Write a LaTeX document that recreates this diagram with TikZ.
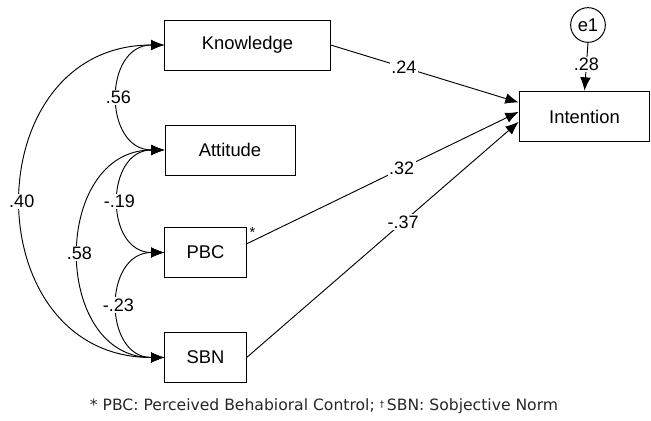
\documentclass[tikz,border=0pt]{standalone}
\usepackage{fontspec}
\setmainfont{Liberation Sans}
\newfontfamily\notefont{DejaVu Sans}
\usetikzlibrary{arrows.meta,positioning}

\begin{document}
\begin{tikzpicture}[x=0.75pt,y=-0.75pt,
   font=\fontsize{13.8}{16}\selectfont,
   var/.style={draw,line width=0.75pt,minimum height=37.5pt,inner sep=0pt},
   err/.style={draw,circle,line width=0.75pt,minimum size=26pt,inner sep=0pt},
   path/.style={-{Latex[length=10pt,width=8pt]},line width=0.7pt},
   cov/.style={{Latex[length=10pt,width=8pt]}-{Latex[length=10pt,width=8pt]},line width=0.7pt},
   coef/.style={fill=white,inner sep=1pt,font=\fontsize{13.5}{15}\selectfont}]
   \useasboundingbox (0,0) rectangle (651,421);
   % observed variables
   \node[var,minimum width=124pt] (know) at (247.5,45)  {Knowledge};
   \node[var,minimum width=97.5pt] (att) at (230,150)   {Attitude};
   \node[var,minimum width=61pt] (pbc)   at (205.5,252.5) {PBC};
   \node[var,minimum width=61pt] (sbn)   at (205.5,357.5) {SBN};
   \node[var,minimum width=98pt,minimum height=38pt] (int) at (584.5,116.5) {Intention};
   \node[err] (e1) at (588,25) {e1};
   \node[anchor=north west,inner sep=0pt,font=\fontsize{11}{12}\selectfont] (star) at ([xshift=2pt]pbc.north east) {*};
   % regression paths
   \path[path]
   (know.east) edge node[coef,pos=0.39] {.24} ([yshift=10.5pt]int.west)
   ([yshift=6.5pt]pbc.east) edge node[coef,pos=0.57] {.32} ([yshift=3.5pt]int.west)
   (sbn.east) edge node[coef,pos=0.575] {-.37} ([yshift=-4pt]int.west)
   (e1.south) edge node[coef,pos=0.45] {.28} (int.north);
   % correlations
   \draw[cov] (know.west) to[out=180,in=180,looseness=1.5] node[coef] {.56} (att.west);
   \draw[cov] (know.west) to[out=180,in=180,looseness=1.56] node[coef] {.40} (sbn.west);
   \draw[cov] (att.west) to[out=180,in=180,looseness=1.4] node[coef] {.58} (sbn.west);
   \draw[cov] (att.west) to[out=180,in=180,looseness=1.5] node[coef] {-.19} (pbc.west);
   \draw[cov] (pbc.west) to[out=180,in=180,looseness=1.5] node[coef] {-.23} (sbn.west);
   % note
   \node[font=\notefont\fontsize{11.7}{13}\selectfont,text=black!85] (note) at (324,406)
   {* PBC: Perceived Behabioral Control; {\fontsize{7}{7}\selectfont\raisebox{0.6ex}{†}}\,SBN: Sobjective Norm};
\end{tikzpicture}
\end{document}
